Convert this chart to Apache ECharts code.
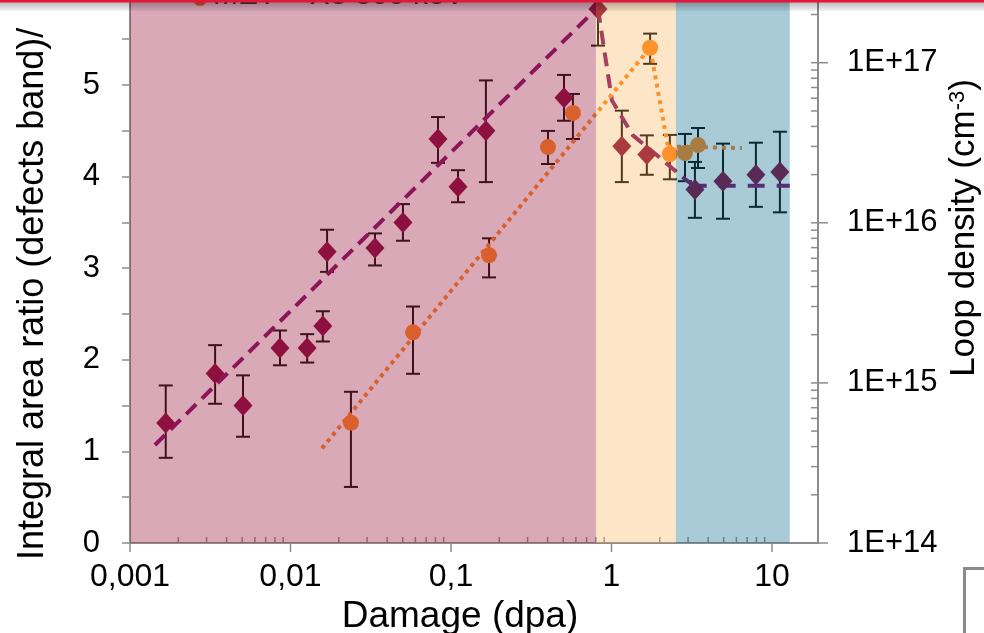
<!DOCTYPE html>
<html><head><meta charset="utf-8">
<script src="https://cdn.jsdelivr.net/npm/echarts@6/dist/echarts.min.js"></script>
<style>html,body{margin:0;padding:0;background:#fff;overflow:hidden}#c{width:984px;height:633px}</style>
</head><body><div id="c"></div>
<script>
// ---- tick labels ----
const xTickLabels = ['0,001', '0,01', '0,1', '1', '10'];
const xTickExp = [-3, -2, -1, 0, 1];
const yRightTickLabels = ['1E+14', '1E+15', '1E+16', '1E+17'];
const yRightTickExp = [14, 15, 16, 17];

// ---- axis ranges ----
const xMin = 0.001, xMax = 19.35;
const yLeftMin = 0, yLeftMax = 6;
const yRightMin = 1e14, yRightMax = 2.71e17;

// ---- damage regimes (dpa) ----
const regionEdges = [0.001, 0.80, 2.52, 12.9];

// ---- integral area ratio (diamonds) ----
const diamondX  = [0.00167, 0.00339, 0.00506, 0.0086, 0.0127, 0.0159, 0.0169, 0.0336, 0.0502, 0.083, 0.1106, 0.165, 0.506, 0.824, 1.16, 1.66, 3.31, 4.95, 7.94, 11.2];
const diamondY  = [1.31, 1.85, 1.50, 2.13, 2.13, 2.37, 3.18, 3.22, 3.50, 4.41, 3.89, 4.50, 4.86, 5.83, 4.33, 4.24, 3.86, 3.95, 4.02, 4.05];
const diamondLo = [0.93, 1.52, 1.16, 1.94, 1.97, 2.20, 2.96, 3.03, 3.30, 4.15, 3.72, 3.94, 4.61, 5.43, 3.94, 4.02, 3.55, 3.54, 3.67, 3.61];
const diamondHi = [1.72, 2.16, 1.83, 2.32, 2.28, 2.53, 3.42, 3.38, 3.70, 4.65, 4.07, 5.05, 5.11, 6.05, 4.72, 4.45, 4.16, 4.36, 4.37, 4.49];

// trend lines for the diamonds
const fitAX = [0.00143, 0.824];
const fitAY = [1.07, 5.85];
const fitBX = [0.824, 1.007, 1.36, 1.87, 2.79, 3.31];
const fitBY = [5.83, 4.83, 4.45, 4.25, 3.99, 3.89];
const fitCX = [3.07, 12.9];
const fitCY = [3.9, 3.9];

// ---- loop density (circles, MET - Xe 300 keV) ----
const circleX  = [0.0238, 0.058, 0.1726, 0.402, 0.575, 1.74, 2.31, 2.87, 3.46];
const circleY  = [5.64e14, 2.07e15, 6.27e15, 2.97e16, 4.86e16, 1.24e17, 2.69e16, 2.73e16, 3.06e16];
const circleLo = [2.24e14, 1.14e15, 4.56e15, 2.33e16, 3.34e16, 9.84e16, 1.87e16, 1.82e16, 2.20e16];
const circleHi = [8.8e14, 3.0e15, 8.0e15, 3.75e16, 6.38e16, 1.52e17, 3.54e16, 3.59e16, 3.91e16];
const loopLineX = [0.0157, 1.74, 2.25];
const loopLineY = [3.9e14, 1.24e17, 3.0e16];
const loopFlatX = [2.25, 6.5];
const loopFlatY = [3.0e16, 2.93e16];

// ---------------------------------------------------------------
const FONT = "'Liberation Sans', Arial, sans-serif";
const regionColors = ['rgba(160,40,78,0.40)', 'rgba(248,176,85,0.33)', 'rgba(20,114,147,0.37)'];
const zip = (a, b) => a.map((v, i) => [v, b[i]]);

const xMinorTicks = [];
for (let e = -3; e <= 1; e++) for (let k = 2; k <= 9; k++) { const v = k * Math.pow(10, e); if (v < xMax) xMinorTicks.push([v, 0, 0]); }
xTickExp.forEach(e => xMinorTicks.push([Math.pow(10, e), 0, 1]));
const yRightTicks = [];
for (let e = 14; e <= 17; e++) for (let k = 1; k <= 9; k++) { const v = k * Math.pow(10, e); if (v < yRightMax) yRightTicks.push([xMax, v, k === 1 ? 1 : 0]); }

function errRender(params, api) {
  const x = api.value(0), lo = api.value(1), hi = api.value(2);
  const a = api.coord([x, lo]), b = api.coord([x, hi]);
  const w = 7, st = { stroke: '#000', lineWidth: 2 };
  return { type: 'group', children: [
    { type: 'line', shape: { x1: a[0], y1: a[1], x2: b[0], y2: b[1] }, style: st },
    { type: 'line', shape: { x1: a[0] - w, y1: a[1], x2: a[0] + w, y2: a[1] }, style: st },
    { type: 'line', shape: { x1: b[0] - w, y1: b[1], x2: b[0] + w, y2: b[1] }, style: st }
  ] };
}

const chart = echarts.init(document.getElementById('c'), null, { renderer: 'canvas' });
chart.setOption({
  animation: false,
  backgroundColor: '#fff',
  grid: { left: 130, right: 166, top: -6.6, bottom: 90, containLabel: false, outerBoundsMode: 'none' },
  xAxis: {
    type: 'log', min: xMin, max: xMax, logBase: 10,
    axisLine: { lineStyle: { color: '#8c8c8c', width: 2 } },
    axisTick: { show: false },
    splitLine: { show: false },
    axisLabel: {
      fontFamily: FONT, fontSize: 32, color: '#000', margin: 18,
      formatter: v => { const l = Math.log10(v), e = Math.round(l); if (Math.abs(l - e) > 1e-6) return ''; const i = xTickExp.indexOf(e); return i >= 0 ? xTickLabels[i] : ''; }
    },
    name: 'Damage (dpa)', nameLocation: 'middle', nameGap: 51,
    nameTextStyle: { fontFamily: FONT, fontSize: 37, color: '#000', padding: [0, 28, 0, 0] }
  },
  yAxis: [{
    type: 'value', min: yLeftMin, max: yLeftMax, interval: 1,
    axisLine: { show: true, lineStyle: { color: '#8c8c8c', width: 2 } },
    axisTick: { show: true, length: 8, lineStyle: { color: '#8c8c8c', width: 1.5 } },
    minorTick: { show: true, splitNumber: 2, length: 8, lineStyle: { color: '#8c8c8c', width: 1.5 } },
    splitLine: { show: false },
    axisLabel: { fontFamily: FONT, fontSize: 31, color: '#000', margin: 30, showMaxLabel: true, showMinLabel: true, hideOverlap: false }
  }, {
    type: 'log', min: yRightMin, max: yRightMax, logBase: 10, position: 'right',
    axisLine: { show: true, lineStyle: { color: '#8c8c8c', width: 2 } },
    axisTick: { show: false },
    splitLine: { show: false },
    axisLabel: {
      fontFamily: FONT, fontSize: 31, color: '#000', margin: 29,
      formatter: v => { const l = Math.log10(v), e = Math.round(l); if (Math.abs(l - e) > 1e-6) return ''; const i = yRightTickExp.indexOf(e); return i >= 0 ? yRightTickLabels[i] : ''; }
    }
  }],
  series: [
    { type: 'custom', name: 'diamond-err', xAxisIndex: 0, yAxisIndex: 0, z: 2, silent: true,
      data: diamondX.map((x, i) => [x, diamondLo[i], diamondHi[i]]), encode: { x: 0, y: [1, 2] }, renderItem: errRender },
    { type: 'custom', name: 'circle-err', xAxisIndex: 0, yAxisIndex: 1, z: 2, silent: true,
      data: circleX.map((x, i) => [x, circleLo[i], circleHi[i]]), encode: { x: 0, y: [1, 2] }, renderItem: errRender },
    { type: 'line', name: 'fitA', yAxisIndex: 0, z: 3, symbol: 'none', data: zip(fitAX, fitAY),
      lineStyle: { color: '#7f0762', width: 4, type: [14, 8] } },
    { type: 'line', name: 'fitB', yAxisIndex: 0, z: 3, symbol: 'none', data: zip(fitBX, fitBY),
      lineStyle: { color: '#7f0762', width: 4, type: [14, 8] } },
    { type: 'line', name: 'fitC', yAxisIndex: 0, z: 3, symbol: 'none', data: zip(fitCX, fitCY),
      lineStyle: { color: '#7f0762', width: 4, type: [17, 12] } },
    { type: 'line', name: 'loopFit', yAxisIndex: 1, z: 3, symbol: 'none', data: zip(loopLineX, loopLineY),
      lineStyle: { color: '#ff8417', width: 4, type: [4, 4.4] } },
    { type: 'line', name: 'loopFlat', yAxisIndex: 1, z: 3, symbol: 'none', data: zip(loopFlatX, loopFlatY),
      lineStyle: { color: '#ff8417', width: 4, type: [4, 5] } },
    { type: 'scatter', name: 'Integral area ratio', yAxisIndex: 0, z: 4, symbol: 'diamond', symbolSize: [19, 21],
      itemStyle: { color: '#820034', opacity: 1 }, data: zip(diamondX, diamondY) },
    { type: 'scatter', name: 'MET - Xe 300 keV', yAxisIndex: 1, z: 4, symbol: 'circle', symbolSize: 16,
      itemStyle: { color: '#ff8417', opacity: 1 }, data: zip(circleX, circleY) },
    { type: 'custom', name: 'x-ticks', xAxisIndex: 0, yAxisIndex: 0, z: 5, silent: true,
      data: xMinorTicks, encode: { x: 0, y: 1 },
      renderItem: (p, api) => { const c = api.coord([api.value(0), 0]); const major = api.value(2) === 1;
        return { type: 'line', shape: { x1: c[0], y1: c[1], x2: c[0], y2: major ? c[1] + 9 : c[1] - 6 }, style: { stroke: '#8c8c8c', lineWidth: 1.5 } }; } },
    { type: 'custom', name: 'y2-ticks', xAxisIndex: 0, yAxisIndex: 1, z: 5, silent: true,
      data: yRightTicks, encode: { x: 0, y: 1 },
      renderItem: (p, api) => { const c = api.coord([api.value(0), api.value(1)]); const major = api.value(2) === 1;
        return { type: 'line', shape: { x1: c[0] - 7, y1: c[1], x2: major ? c[0] + 10 : c[0], y2: c[1] }, style: { stroke: '#8c8c8c', lineWidth: 1.5 } }; } },
    { type: 'custom', name: 'regimes', xAxisIndex: 0, yAxisIndex: 0, z: 6, silent: true,
      data: regionEdges.slice(0, -1).map((x0, i) => [x0, regionEdges[i + 1], yLeftMin, yLeftMax, i]),
      encode: { x: [0, 1], y: [2, 3] },
      renderItem: (p, api) => { const a = api.coord([api.value(0), api.value(3)]), b = api.coord([api.value(1), api.value(2)]);
        return { type: 'rect', shape: { x: a[0], y: a[1], width: b[0] - a[0], height: b[1] - a[1] }, style: { fill: regionColors[api.value(4)] } }; } }
  ],
  graphic: [
    { type: 'text', x: 33, y: 560, rotation: Math.PI / 2, z: 100,
      style: { text: 'Integral area ratio (defects band)/', font: "36px 'Liberation Sans', Arial, sans-serif", fill: '#000', align: 'left', verticalAlign: 'middle' } },
    { type: 'text', x: 964, y: 228, rotation: Math.PI / 2, z: 100,
      style: { text: 'Loop density (cm{sup|-3})', font: "35px 'Liberation Sans', Arial, sans-serif", fill: '#000', align: 'center', verticalAlign: 'middle',
        rich: { sup: { fontSize: 22, fontFamily: FONT, verticalAlign: 'top', lineHeight: 22, padding: [0, 0, 14, 0] } } } },
    { type: 'circle', shape: { cx: 200, cy: -1, r: 7 }, style: { fill: '#d2502a' }, z: 100 },
    { type: 'text', x: 213, y: 11, z: 100,
      style: { text: 'MET \u2013 Xe 300 keV', font: "30px 'Liberation Sans', Arial, sans-serif", fill: '#333', align: 'left', verticalAlign: 'bottom' } },
    { type: 'rect', shape: { x: 0, y: 2, width: 984, height: 9 }, z: 101,
      style: { fill: { type: 'linear', x: 0, y: 0, x2: 0, y2: 1, colorStops: [{ offset: 0, color: 'rgba(0,0,0,0.28)' }, { offset: 1, color: 'rgba(0,0,0,0.05)' }] } } },
    { type: 'rect', shape: { x: 0, y: 0, width: 984, height: 2.5 }, z: 102, style: { fill: '#e3173e' } },
    { type: 'rect', shape: { x: 964.5, y: 568.5, width: 100, height: 100 }, z: 100, style: { fill: 'none', stroke: '#8a8a8a', lineWidth: 3 } }
  ]
});
</script></body></html>
